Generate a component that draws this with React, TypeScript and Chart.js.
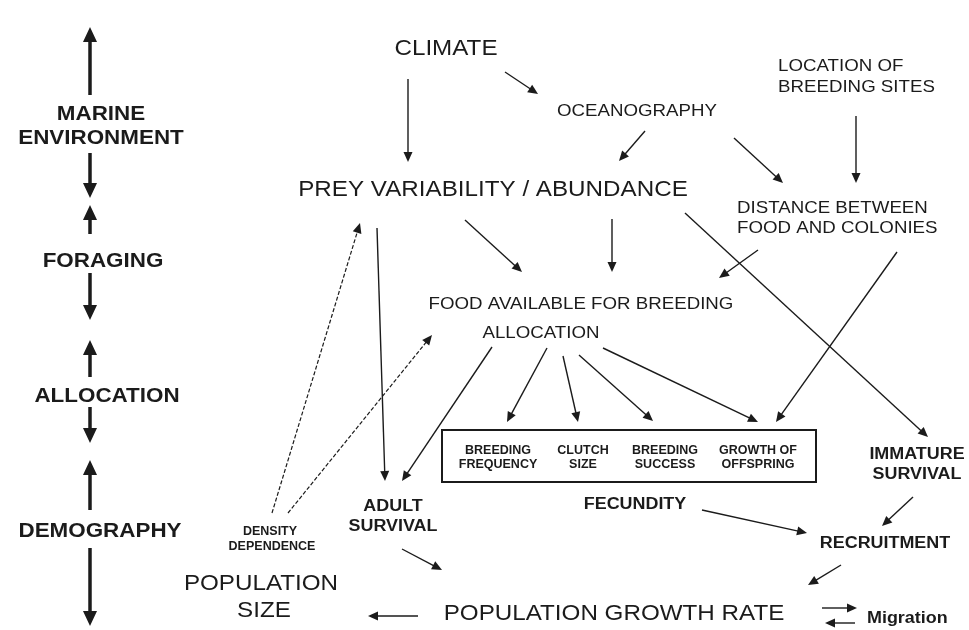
import React, { useEffect, useRef } from "react";
import { Chart, registerables } from "chart.js";

Chart.register(...registerables);

// ---- Diagram content (data-space coordinates: x 0..969, y 0..630 from top) ----
const LEVEL_LABELS = [
  { text: "MARINE", x: 101, y: 113 },
  { text: "ENVIRONMENT", x: 101, y: 137 },
  { text: "FORAGING", x: 103, y: 260 },
  { text: "ALLOCATION", x: 107, y: 395 },
  { text: "DEMOGRAPHY", x: 100, y: 530 },
];

const LARGE_LABELS = [
  { text: "CLIMATE", x: 446, y: 47 },
  { text: "PREY VARIABILITY / ABUNDANCE", x: 493, y: 188 },
  { text: "POPULATION", x: 261, y: 582 },
  { text: "SIZE", x: 264, y: 609 },
  { text: "POPULATION GROWTH RATE", x: 614, y: 612 },
];

const MEDIUM_LABELS = [
  { text: "OCEANOGRAPHY", x: 637, y: 110, align: "center" },
  { text: "LOCATION OF", x: 778, y: 65, align: "left" },
  { text: "BREEDING SITES", x: 778, y: 86, align: "left" },
  { text: "DISTANCE BETWEEN", x: 737, y: 207, align: "left" },
  { text: "FOOD AND COLONIES", x: 737, y: 227, align: "left" },
  { text: "FOOD AVAILABLE FOR BREEDING", x: 581, y: 303, align: "center" },
  { text: "ALLOCATION", x: 541, y: 332, align: "center" },
];

const BOLD_LABELS = [
  { text: "ADULT", x: 393, y: 505, align: "center" },
  { text: "SURVIVAL", x: 393, y: 525, align: "center" },
  { text: "FECUNDITY", x: 635, y: 503, align: "center" },
  { text: "IMMATURE", x: 917, y: 453, align: "center" },
  { text: "SURVIVAL", x: 917, y: 473, align: "center" },
  { text: "RECRUITMENT", x: 885, y: 542, align: "center" },
  { text: "Migration", x: 867, y: 617, align: "left" },
];

const SMALL_LABELS = [
  { text: "BREEDING", x: 498, y: 450 },
  { text: "FREQUENCY", x: 498, y: 464 },
  { text: "CLUTCH", x: 583, y: 450 },
  { text: "SIZE", x: 583, y: 464 },
  { text: "BREEDING", x: 665, y: 450 },
  { text: "SUCCESS", x: 665, y: 464 },
  { text: "GROWTH OF", x: 758, y: 450 },
  { text: "OFFSPRING", x: 758, y: 464 },
  { text: "DENSITY", x: 270, y: 531 },
  { text: "DEPENDENCE", x: 272, y: 546 },
];

// box around the reproductive components: [x1, y1, x2, y2]
const COMPONENT_BOX = [442, 430, 816, 482];

// thick level arrows: [fromX, fromY, tipX, tipY]
const LEVEL_ARROWS = [
  [90, 95, 90, 27],
  [90, 153, 90, 198],
  [90, 234, 90, 205],
  [90, 273, 90, 320],
  [90, 377, 90, 340],
  [90, 407, 90, 443],
  [90, 510, 90, 460],
  [90, 548, 90, 626],
];

// causal arrows: [fromX, fromY, tipX, tipY]
const CAUSAL_ARROWS = [
  [408, 79, 408, 162],
  [505, 72, 538, 94],
  [645, 131, 619, 161],
  [465, 220, 522, 272],
  [612, 219, 612, 272],
  [377, 228, 385, 481],
  [492, 347, 402, 481],
  [547, 348, 507, 422],
  [563, 356, 578, 422],
  [579, 355, 653, 421],
  [603, 348, 758, 422],
  [897, 252, 776, 422],
  [758, 250, 719, 278],
  [734, 138, 783, 183],
  [856, 116, 856, 183],
  [685, 213, 928, 437],
  [913, 497, 882, 526],
  [702, 510, 807, 533],
  [841, 565, 808, 585],
  [402, 549, 442, 570],
  [418, 616, 368, 616],
  [822, 608, 857, 608],
  [855, 623, 825, 623],
];

// density-dependence feedback arrows (dashed): [fromX, fromY, tipX, tipY]
const FEEDBACK_ARROWS = [
  [272, 513, 360, 223],
  [288, 513, 432, 335],
];

const INK = "#1b1b1b";
const FONT = "'Liberation Sans', Arial, Helvetica, sans-serif";

function drawArrow(ctx, s, a, opts) {
  const x1 = s.x.getPixelForValue(a[0]);
  const y1 = s.y.getPixelForValue(a[1]);
  const x2 = s.x.getPixelForValue(a[2]);
  const y2 = s.y.getPixelForValue(a[3]);
  const ang = Math.atan2(y2 - y1, x2 - x1);
  const hl = opts.headLen;
  const hw = opts.headHalf;
  const bx = x2 - Math.cos(ang) * hl;
  const by = y2 - Math.sin(ang) * hl;
  ctx.save();
  ctx.strokeStyle = INK;
  ctx.fillStyle = INK;
  ctx.lineWidth = opts.width;
  ctx.setLineDash(opts.dash || []);
  ctx.beginPath();
  ctx.moveTo(x1, y1);
  ctx.lineTo(bx + Math.cos(ang) * 1, by + Math.sin(ang) * 1);
  ctx.stroke();
  ctx.setLineDash([]);
  ctx.beginPath();
  ctx.moveTo(x2, y2);
  ctx.lineTo(bx + Math.sin(ang) * hw, by - Math.cos(ang) * hw);
  ctx.lineTo(bx - Math.sin(ang) * hw, by + Math.cos(ang) * hw);
  ctx.closePath();
  ctx.fill();
  ctx.restore();
}

function drawLabel(ctx, s, l, style) {
  const px = s.x.getPixelForValue(l.x);
  const py = s.y.getPixelForValue(l.y);
  ctx.save();
  ctx.font = `${style.weight} ${style.size}px ${FONT}`;
  ctx.fillStyle = INK;
  ctx.textBaseline = "alphabetic";
  const w = ctx.measureText(l.text).width * style.stretch;
  const align = l.align || "center";
  const left = align === "left" ? px : px - w / 2;
  ctx.translate(left, py + style.size * 0.358);
  ctx.scale(style.stretch, 1);
  ctx.textAlign = "left";
  ctx.fillText(l.text, 0, 0);
  ctx.restore();
}

const diagramPlugin = {
  id: "diagram",
  afterDatasetsDraw(chart) {
    const ctx = chart.ctx;
    const s = { x: chart.scales.x, y: chart.scales.y };

    // box
    const bx1 = s.x.getPixelForValue(COMPONENT_BOX[0]);
    const by1 = s.y.getPixelForValue(COMPONENT_BOX[1]);
    const bx2 = s.x.getPixelForValue(COMPONENT_BOX[2]);
    const by2 = s.y.getPixelForValue(COMPONENT_BOX[3]);
    ctx.save();
    ctx.strokeStyle = INK;
    ctx.lineWidth = 2;
    ctx.strokeRect(bx1, by1, bx2 - bx1, by2 - by1);
    ctx.restore();

    LEVEL_ARROWS.forEach((a) => drawArrow(ctx, s, a, { width: 3.5, headLen: 15, headHalf: 7 }));
    CAUSAL_ARROWS.forEach((a) => drawArrow(ctx, s, a, { width: 1.4, headLen: 10, headHalf: 4.5 }));
    FEEDBACK_ARROWS.forEach((a) => drawArrow(ctx, s, a, { width: 1.2, headLen: 10, headHalf: 4.5, dash: [4, 2] }));

    LEVEL_LABELS.forEach((l) => drawLabel(ctx, s, l, { weight: "bold", size: 20, stretch: 1.12 }));
    LARGE_LABELS.forEach((l) => drawLabel(ctx, s, l, { weight: "normal", size: 22, stretch: 1.1 }));
    MEDIUM_LABELS.forEach((l) => drawLabel(ctx, s, l, { weight: "normal", size: 17, stretch: 1.1 }));
    BOLD_LABELS.forEach((l) => drawLabel(ctx, s, l, { weight: "bold", size: 16, stretch: 1.12 }));
    SMALL_LABELS.forEach((l) => drawLabel(ctx, s, l, { weight: "bold", size: 12.5, stretch: 1.0 }));
  },
};

export default function App() {
  const ref = useRef(null);
  useEffect(() => {
    const chart = new Chart(ref.current, {
      type: "scatter",
      data: {
        datasets: [
          {
            data: [],
            pointRadius: 0,
          },
        ],
      },
      options: {
        animation: false,
        responsive: true,
        maintainAspectRatio: false,
        layout: { padding: 0 },
        plugins: { legend: { display: false }, tooltip: { enabled: false } },
        events: [],
        scales: {
          x: { type: "linear", min: 0, max: 969, display: false },
          y: { type: "linear", min: 0, max: 630, reverse: true, display: false },
        },
      },
      plugins: [diagramPlugin],
    });
    return () => chart.destroy();
  }, []);
  return (
    <div style={{ position: "fixed", left: 0, top: 0, width: 969, height: 630, background: "#fff" }}>
      <canvas ref={ref} />
    </div>
  );
}
